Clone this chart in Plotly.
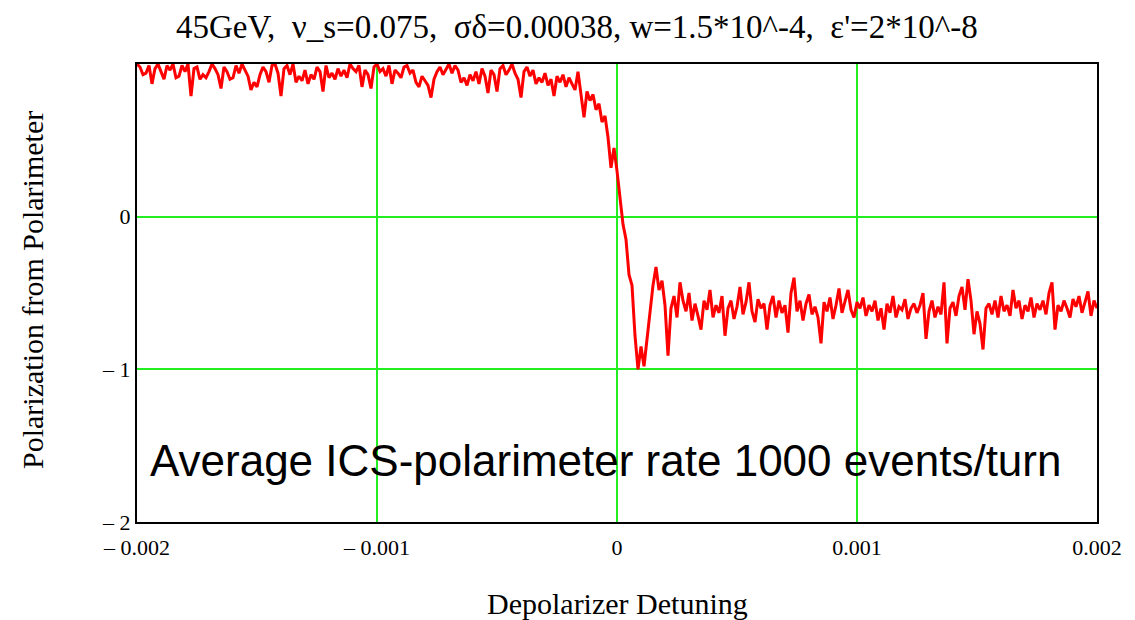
import plotly.graph_objects as go

# Detuning axis: start and end of the scan
x_start = -0.002
x_end = 0.002

# Polarization readings along the scan (evenly spaced in detuning)
pol_high = [
    1.0, 0.98, 0.93, 0.94, 0.99, 0.87, 0.97, 1.0, 0.95, 0.90,
    0.99, 0.96, 1.0, 0.91, 0.92, 0.99, 0.95, 1.0, 0.79, 0.97,
    0.98, 0.90, 0.93, 0.91, 0.95, 1.0, 0.97, 0.93, 0.84, 0.98,
    0.95, 0.90, 0.91, 0.99, 0.94, 1.0, 0.96, 0.92, 0.83, 0.88,
    0.85, 0.93, 0.98, 0.95, 0.88, 0.99, 1.0, 0.94, 0.79, 0.97,
    0.99, 0.93, 1.0, 0.88, 0.92, 0.89, 0.96, 0.87, 0.93, 0.90,
    0.98, 0.95, 0.82, 0.99, 0.91, 0.94, 0.90, 0.97, 0.92, 0.96,
    0.91, 1.0, 0.97, 0.95, 0.99, 0.85, 0.96, 0.93, 0.84, 0.98,
    1.0, 0.95, 0.97, 0.92, 0.99, 0.87, 0.96, 0.94, 0.91, 0.98,
    0.99, 0.94, 0.96, 0.88, 0.85, 0.92, 0.89, 0.86, 0.78, 0.90,
    0.95, 0.98, 0.93, 0.97, 1.0, 0.94, 0.99, 0.96, 0.88, 0.91,
    0.86, 0.93, 0.89, 0.95, 0.87, 0.97, 0.92, 0.81, 0.96, 0.93,
    0.82, 0.97, 0.99, 0.93, 0.96, 1.0, 0.94, 0.90, 0.78, 0.95,
    0.98, 0.92, 0.96, 0.87, 0.91, 0.88, 0.94, 0.86, 0.90, 0.79,
]
pol_flip = [
    0.92, 0.88, 0.93, 0.85, 0.91, 0.87, 0.83, 0.95, 0.78, 0.65,
    0.82, 0.76, 0.80, 0.70, 0.74, 0.62, 0.66, 0.52, 0.32, 0.45,
    0.30, 0.12, -0.05, -0.15, -0.38, -0.45, -0.78, -1.0, -0.85, -0.98,
    -0.80, -0.62, -0.45, -0.33, -0.48, -0.42, -0.58, -0.91, -0.60, -0.52,
    -0.66, -0.43, -0.55,
]
pol_low = [
    -0.62, -0.50, -0.68, -0.57, -0.65, -0.74, -0.55, -0.61, -0.48, -0.66,
    -0.58, -0.63, -0.52, -0.78, -0.60, -0.55, -0.67, -0.59, -0.46, -0.64,
    -0.56, -0.43, -0.62, -0.69, -0.54, -0.60, -0.57, -0.74, -0.58, -0.52,
    -0.66, -0.55, -0.63, -0.58, -0.76, -0.50, -0.40, -0.62, -0.55, -0.68,
    -0.57, -0.51, -0.64, -0.59, -0.66, -0.83, -0.56, -0.62, -0.53, -0.67,
    -0.58, -0.47, -0.63, -0.55, -0.48, -0.61, -0.66, -0.56, -0.60, -0.53,
    -0.65, -0.58, -0.62, -0.55, -0.68, -0.60, -0.74, -0.57, -0.63, -0.52,
    -0.66, -0.59, -0.61, -0.54, -0.67, -0.60, -0.57, -0.63, -0.58, -0.50,
    -0.80, -0.62, -0.55, -0.66, -0.59, -0.64, -0.43, -0.83, -0.60, -0.56,
    -0.65, -0.52, -0.46, -0.61, -0.41, -0.55, -0.77, -0.62, -0.70, -0.87,
    -0.60, -0.57, -0.64, -0.55, -0.66, -0.52, -0.62, -0.58, -0.65, -0.48,
    -0.60, -0.55, -0.67, -0.58, -0.62, -0.53, -0.66, -0.57, -0.61, -0.55,
    -0.64, -0.50, -0.43, -0.74, -0.58, -0.62, -0.55, -0.60, -0.66, -0.54,
    -0.59, -0.52, -0.63, -0.56, -0.49, -0.65, -0.55, -0.60,
]
polarization = pol_high + pol_flip + pol_low

x_tickvals = [-0.002, -0.001, 0, 0.001, 0.002]
x_ticktext = ["\u2013 0.002", "\u2013 0.001", "0", "0.001", "0.002"]
y_tickvals = [-2, -1, 0]
y_ticktext = ["\u2013 2", "\u2013 1", "0"]

title_text = "45GeV,  \u03bd_s=0.075,  \u03c3\u03b4=0.00038, w=1.5*10^-4,  \u03b5'=2*10^-8"
x_title = "Depolarizer Detuning"
y_title = "Polarization from Polarimeter"
note_text = "Average ICS-polarimeter rate 1000 events/turn"

W, H = 1127, 612  # page body adds an 8px margin
L, R, T, B = 129, 38, 56, 98

fig = go.Figure()
fig.add_trace(go.Scatter(
    y=polarization,
    x0=x_start,
    dx=(x_end - x_start) / (len(polarization) - 1),
    mode="lines",
    line=dict(color="#ff0000", width=3),
    showlegend=False,
))

serif = "Liberation Serif, Times New Roman, serif"


def fx(px):
    return px / W


def fy(py):
    return 1 - py / H


fig.update_layout(
    width=W, height=H,
    margin=dict(l=L, r=R, t=T, b=B),
    paper_bgcolor="white", plot_bgcolor="white",
    font=dict(family=serif, color="black", size=22),
    xaxis=dict(
        range=[x_start, x_end], tickvals=x_tickvals, ticktext=x_ticktext,
        showgrid=True, gridcolor="#22ee22", gridwidth=1.8,
        showline=True, linecolor="black", linewidth=2.2, mirror=True,
        zeroline=False, ticks="", ticklabelstandoff=4,
        tickfont=dict(family=serif, size=22),
    ),
    yaxis=dict(
        range=[-2, 1], tickvals=y_tickvals, ticktext=y_ticktext,
        showgrid=True, gridcolor="#22ee22", gridwidth=1.8,
        showline=True, linecolor="black", linewidth=2.2, mirror=True,
        zeroline=False, ticks="", ticklabelstandoff=0,
        tickfont=dict(family=serif, size=22),
    ),
    annotations=[
        dict(text=title_text, x=fx(569), y=fy(19), xref="paper", yref="paper",
             showarrow=False, xanchor="center", yanchor="middle",
             font=dict(family=serif, size=33, color="black")),
        dict(text=x_title, x=fx(609), y=fy(595), xref="paper", yref="paper",
             showarrow=False, xanchor="center", yanchor="middle",
             font=dict(family=serif, size=30, color="black")),
        dict(text=y_title, x=fx(24), y=fy(282), xref="paper", yref="paper",
             showarrow=False, xanchor="center", yanchor="middle", textangle=-90,
             font=dict(family=serif, size=30, color="black")),
        dict(text=note_text, x=fx(597), y=fy(452), xref="paper", yref="paper",
             showarrow=False, xanchor="center", yanchor="middle",
             font=dict(family="Liberation Sans, Arial, sans-serif", size=44, color="black")),
    ],
)
# annotations above use whole-figure fractions
for a in fig.layout.annotations:
    a.update(xref="paper", yref="paper",
             x=(a.x * W - L) / (W - L - R),
             y=(a.y * H - B) / (H - T - B))

fig.write_html("out.html")
